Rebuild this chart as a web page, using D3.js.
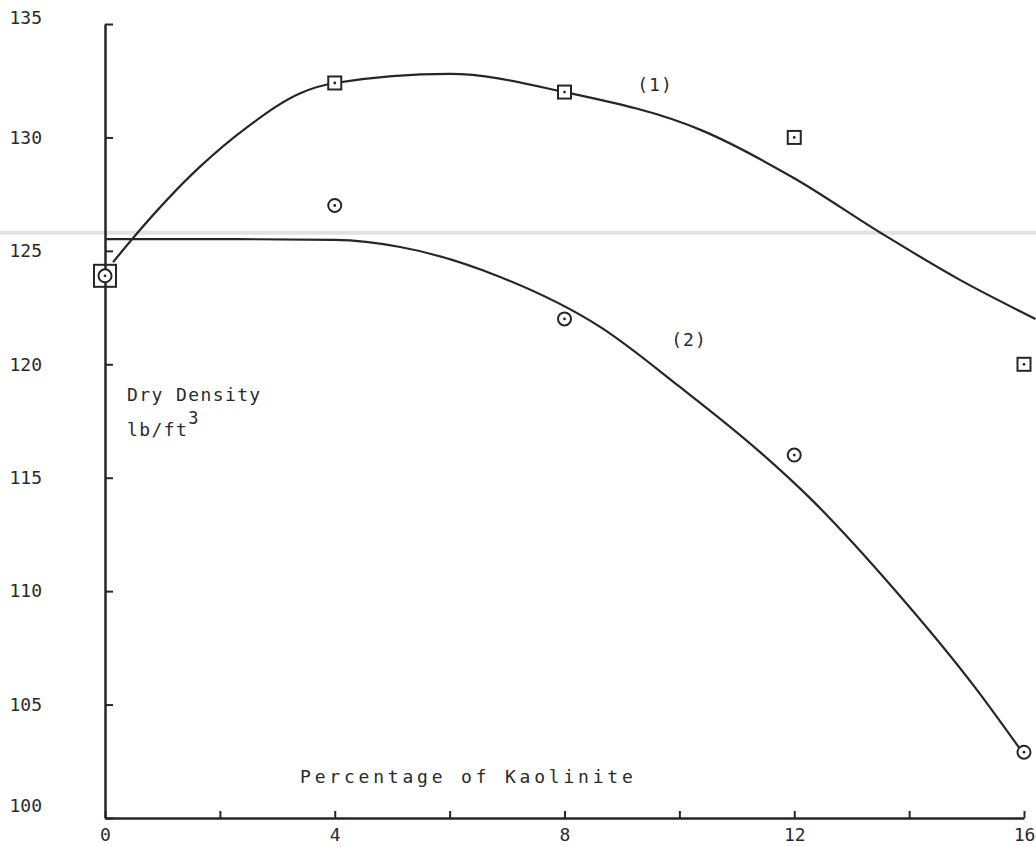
<!DOCTYPE html>
<html>
<head>
<meta charset="utf-8">
<script src="https://cdn.jsdelivr.net/npm/d3@7"></script>
<style>
  html, body { margin: 0; padding: 0; background: #fff; }
  svg { display: block; }
  text { font-family: "DejaVu Sans Mono", monospace; fill: #2a2a2a; }
</style>
</head>
<body>
<svg id="chart" width="1036" height="847"></svg>
<script>
// Measured points: dry density (lb/ft^3) against kaolinite content (%)
const kaoliniteX = [0, 4, 8, 12, 16];
const density1 = [123.9, 132.4, 132.0, 130.0, 120.0];   // series (1), squares
const density2 = [123.9, 127.0, 122.0, 116.0, 102.9];   // series (2), circles

// Hand-fitted curves through each series
const fit1X = [0.14, 0.5, 1.65, 2.5, 3.4, 4.0, 6.0, 8.0, 10.4, 12.0, 13.5, 14.9, 16.2];
const fit1Y = [124.5, 125.6, 128.7, 130.5, 131.95, 132.4, 132.8, 132.0, 130.3, 128.2, 125.8, 123.7, 122.0];
const fit2X = [0, 2.0, 4.0, 5.14, 6.88, 8.62, 10.01, 11.4, 12.27, 13.72, 15.18, 15.98];
const fit2Y = [125.52, 125.52, 125.48, 125.17, 123.85, 121.65, 119.0, 116.14, 114.11, 110.14, 105.65, 102.87];

// Axis ticks
const xTicks = [0, 2, 4, 6, 8, 10, 12, 14, 16];
const xTickLabels = [0, 4, 8, 12, 16];
const yTicks = [100, 105, 110, 115, 120, 125, 130, 135];

// Faint horizontal line running across the sheet
const sheetLineValue = 125.8;

const svg = d3.select("#chart");
const W = 1036;
const ink = "#262626";

const x = d3.scaleLinear().domain([0, 16]).range([105, 1024]);
const y = d3.scaleLinear().domain([100, 135]).range([818, 24]);

// sheet line (behind everything)
svg.append("line")
  .attr("x1", 0).attr("x2", W)
  .attr("y1", y(sheetLineValue)).attr("y2", y(sheetLineValue))
  .attr("stroke", "#e2e2e2").attr("stroke-width", 4);

// X axis, ticks pointing up into the plot
const xAxis = d3.axisBottom(x)
  .tickValues(xTicks)
  .tickSizeInner(-7)
  .tickSizeOuter(0)
  .tickPadding(10)
  .tickFormat(d => xTickLabels.includes(d) ? d : "");
const gx = svg.append("g").attr("transform", `translate(0,${y(100)})`).call(xAxis);
gx.select(".domain").attr("stroke", ink).attr("stroke-width", 2.5);
gx.selectAll(".tick line").attr("stroke", ink).attr("stroke-width", 2);
gx.selectAll(".tick text").attr("font-size", 18).attr("fill", "#2a2a2a")
  .attr("font-family", "DejaVu Sans Mono, monospace");

// Y axis, ticks pointing right into the plot
const labelLift = { 135: -6, 100: -12 };
const yAxis = d3.axisLeft(y)
  .tickValues(yTicks)
  .tickSizeInner(-8)
  .tickSizeOuter(0)
  .tickPadding(63);
const gy = svg.append("g").attr("transform", `translate(${x(0)},0)`).call(yAxis);
gy.select(".domain").attr("stroke", ink).attr("stroke-width", 2.5);
gy.selectAll(".tick line").attr("stroke", ink).attr("stroke-width", 2);
gy.selectAll(".tick text").attr("font-size", 18).attr("fill", "#2a2a2a")
  .attr("font-family", "DejaVu Sans Mono, monospace")
  .attr("transform", d => `translate(0,${labelLift[d] || 0})`);

// fitted curves
const line = d3.line()
  .x(d => x(d[0]))
  .y(d => y(d[1]))
  .curve(d3.curveMonotoneX);

svg.append("path")
  .datum(d3.zip(fit1X, fit1Y))
  .attr("d", line)
  .attr("fill", "none").attr("stroke", ink).attr("stroke-width", 2.2);

svg.append("path")
  .datum(d3.zip(fit2X, fit2Y))
  .attr("d", line)
  .attr("fill", "none").attr("stroke", ink).attr("stroke-width", 2.2);

// series (2): circles with centre dot
const pts2 = d3.zip(kaoliniteX, density2);
const gc = svg.append("g");
gc.selectAll("circle.ring").data(pts2).join("circle")
  .attr("class", "ring")
  .attr("cx", d => x(d[0])).attr("cy", d => y(d[1]))
  .attr("r", 6.5)
  .attr("fill", "#fff").attr("stroke", ink).attr("stroke-width", 2);
gc.selectAll("circle.dot").data(pts2).join("circle")
  .attr("class", "dot")
  .attr("cx", d => x(d[0])).attr("cy", d => y(d[1]))
  .attr("r", 1.4).attr("fill", ink);

// series (1): squares with centre dot; the shared origin point is drawn larger
const pts1 = d3.zip(kaoliniteX, density1);
const sq = d => d[0] === 0 ? 22 : 13;
const gs = svg.append("g");
gs.selectAll("rect").data(pts1).join("rect")
  .attr("x", d => x(d[0]) - sq(d) / 2)
  .attr("y", d => y(d[1]) - sq(d) / 2)
  .attr("width", sq).attr("height", sq)
  .attr("fill", d => d[0] === 0 ? "none" : "#fff")
  .attr("stroke", ink).attr("stroke-width", 2);
gs.selectAll("circle").data(pts1.filter(d => d[0] !== 0)).join("circle")
  .attr("cx", d => x(d[0])).attr("cy", d => y(d[1]))
  .attr("r", 1.4).attr("fill", ink);

// curve labels
svg.append("text").attr("x", 655).attr("y", 91)
  .attr("text-anchor", "middle").attr("font-size", 18).attr("letter-spacing", 1)
  .text("(1)");
svg.append("text").attr("x", 689).attr("y", 346)
  .attr("text-anchor", "middle").attr("font-size", 18).attr("letter-spacing", 1)
  .text("(2)");

// axis titles
svg.append("text").attr("x", 127).attr("y", 401)
  .attr("font-size", 18).attr("letter-spacing", 1.4)
  .text("Dry Density");
const unit = svg.append("text").attr("x", 127).attr("y", 436)
  .attr("font-size", 18).attr("letter-spacing", 1.4);
unit.append("tspan").text("lb/ft");
unit.append("tspan").attr("dy", -12).attr("font-size", 17).text("3");

svg.append("text").attr("x", 300).attr("y", 783)
  .attr("font-size", 18).attr("letter-spacing", 3.8)
  .text("Percentage of Kaolinite");
</script>
</body>
</html>
